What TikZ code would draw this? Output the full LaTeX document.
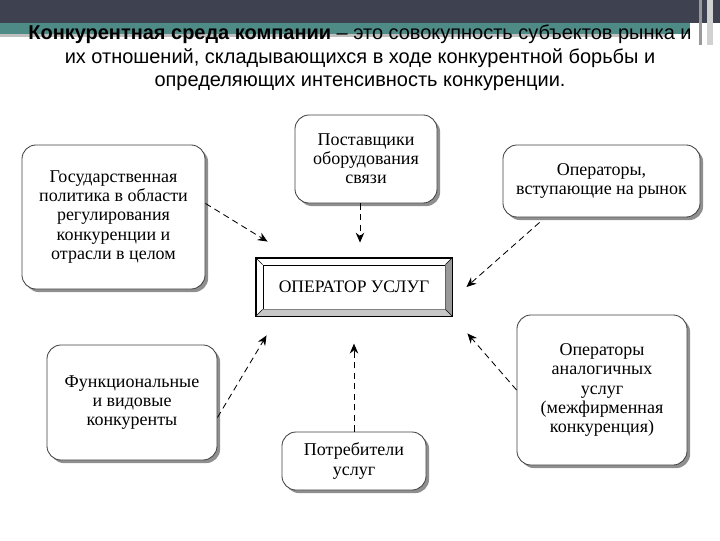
\documentclass[tikz,border=0pt]{standalone}
\usepackage{fontspec}
\setmainfont{Liberation Serif}
\newfontfamily\titlefont{Liberation Sans}
\usepackage{xcolor}
\usetikzlibrary{arrows.meta,shadows,calc}

\definecolor{band}{HTML}{3E4150}
\definecolor{teal}{HTML}{4E8A86}

\begin{document}
\begin{tikzpicture}[x=0.025cm, y=-0.025cm,
    box/.style={draw=black!75, line width=0.6pt, rounded corners=10pt, fill=white,
                font=\fontsize{12.8}{13.6}\selectfont, align=center,
                drop shadow={shadow xshift=2.2pt, shadow yshift=-2.2pt, fill=black!55, opacity=.8}},
    flow/.style={-{Stealth[length=7pt, width=6pt]}, line width=0.6pt,
                 dash pattern=on 4.5pt off 3pt},
    title/.style={font=\titlefont\fontsize{14.2}{16.7}\selectfont, align=center}]
  \useasboundingbox (0,0) rectangle (720,540);
  % slide header
  \fill[band] (0,0) rectangle (720,23);
  \fill[teal] (0,23) rectangle (690,34);
  \fill[black!25] (0,34) rectangle (665,37);
  \fill[black!40] (699,0) rectangle (702,45);
  \fill[black!18] (707,0) rectangle (713,45);
  \node[title] (head) at (360,58)
    {\textbf{Конкурентная среда компании} – это совокупность субъектов рынка и\\
     их отношений, складывающихся в ходе конкурентной борьбы и\\
     определяющих интенсивность конкуренции.};

  % boxes
  \node[box, minimum width=4.575cm, minimum height=3.6cm] (gov) at (113.5,217)
    {Государственная\\политика в области\\регулирования\\конкуренции и\\отрасли в целом};
  \node[box, minimum width=3.55cm, minimum height=2.2cm] (sup) at (366,159)
    {Поставщики\\оборудования\\связи};
  \node[box, minimum width=4.925cm, minimum height=1.8cm] (ent) at (601.5,181)
    {Операторы,\\вступающие на рынок};
  \node[box, minimum width=4.25cm, minimum height=2.875cm] (func) at (132,402.5)
    {Функциональные\\и видовые\\конкуренты};
  \node[box, minimum width=3.6cm, minimum height=1.45cm] (cons) at (354,461)
    {Потребители\\услуг};
  \node[box, minimum width=4.25cm, minimum height=3.75cm] (ana) at (602,390)
    {Операторы\\аналогичных\\услуг\\(межфирменная\\конкуренция)};

  % operator with bevel frame
  \node[draw, line width=0.6pt, minimum width=4.9cm, minimum height=1.45cm] (opf) at (354,287) {};
  \node[draw, line width=0.6pt, fill=white, minimum width=4.55cm, minimum height=1.1cm,
        font=\fontsize{12.5}{14}\selectfont] (op) at (354,287) {ОПЕРАТОР УСЛУГ};
  \fill[black!40] (opf.north east) -- (opf.south east) -- (op.south east) -- (op.north east) -- cycle;
  \fill[black!22] (opf.south west) -- (opf.south east) -- (op.south east) -- (op.south west) -- cycle;
  \draw[line width=0.6pt] (opf.north west) rectangle (opf.south east);
  \draw[line width=0.4pt] (opf.north west) -- (op.north west) (opf.north east) -- (op.north east)
    (opf.south west) -- (op.south west) (opf.south east) -- (op.south east);

  % arrows
  \draw[flow] (gov.east |- sup.south) -- ($(opf.north west)+(12,-16)$);
  \draw[flow, shorten >=0.375cm] ([xshift=-0.15cm]sup.south) -- ([xshift=-0.15cm]sup.south |- opf.north);
  \draw[flow] ([shift={(37,5)}]ent.south west) -- ([xshift=0.35cm]opf.east);
  \draw[flow] ([yshift=-0.375cm]func.east) -- ($(opf.south west)+(11,19)$);
  \draw[flow, shorten >=0.68cm] (cons.north) -- (cons.north |- opf.south);
  \draw[flow] (ana.west) -- ($(opf.south east)+(15,17)$);
\end{tikzpicture}
\end{document}
